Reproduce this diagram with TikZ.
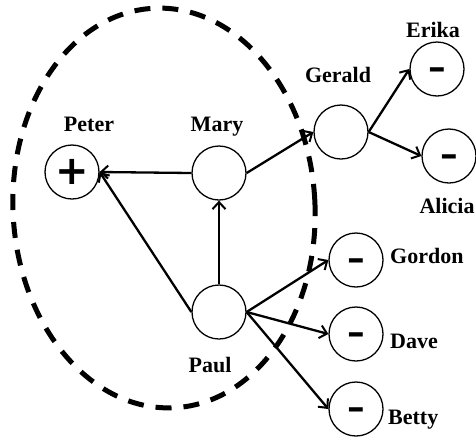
\documentclass[tikz,border=0pt]{standalone}
\usepackage{fontspec}
\usepackage{graphicx}
\setmainfont{Liberation Serif}
\newfontfamily\symfont{DejaVu Sans}
\usetikzlibrary{arrows.meta}
\tikzset{
  person/.style={circle, draw, line width=1.3pt, minimum size=54pt, inner sep=0pt, fill=white},
  personname/.style={font=\fontsize{22}{26}\selectfont\bfseries, inner sep=0pt, anchor=base},
  rel/.style={line width=2.3pt, -{Straight Barb[length=7pt,width=13pt,line width=2pt]}},
  plussign/.style={font=\symfont\bfseries\fontsize{40}{40}\selectfont, inner sep=0pt},
  minussign/.style={font=\symfont\bfseries\fontsize{30}{30}\selectfont, inner sep=0pt, yshift=-4.5pt},
  groupline/.style={line width=5pt, dash pattern=on 16pt off 12pt}
}
\begin{document}
\begin{tikzpicture}[x=1pt,y=-1pt]
\useasboundingbox (0,0) rectangle (476,437);
% people
\node[person] (peter) at (72,172) {};
\node[person] (mary) at (219,173) {};
\node[person] (paul) at (219,312) {};
\node[person] (gerald) at (341,132) {};
\node[person] (erika) at (437,69) {};
\node[person] (alicia) at (449,156) {};
\node[person] (gordon) at (356,260) {};
\node[person] (dave) at (356,334) {};
\node[person] (betty) at (356,409) {};
% signs
\node[plussign] (ps) at (peter.center) {+};
\node[minussign] (ms1) at (erika.center) {\scalebox{1.5}[1]{-}};
\node[minussign] (ms2) at (alicia.center) {\scalebox{1.5}[1]{-}};
\node[minussign] (ms3) at (gordon.center) {\scalebox{1.5}[1]{-}};
\node[minussign] (ms4) at (dave.center) {\scalebox{1.5}[1]{-}};
\node[minussign] (ms5) at (betty.center) {\scalebox{1.5}[1]{-}};
% names
\node[personname] (lpeter) at (89,131) {Peter};
\node[personname] (lmary) at (217,131) {Mary};
\node[personname] (lgerald) at (338,82) {Gerald};
\node[personname] (lerika) at (433,37) {Erika};
\node[personname] (lalicia) at (447,213) {Alicia};
\node[personname, anchor=base west] (lgordon) at (390,263) {Gordon};
\node[personname, anchor=base west] (ldave) at (390,348) {Dave};
\node[personname, anchor=base west] (lbetty) at (388,424) {Betty};
\node[personname] (lpaul) at (210,372) {Paul};
% relations
\draw[rel] (mary.west) -- (peter.east);
\draw[rel] (paul.west) -- (peter.east);
\draw[rel] (paul.north) -- (mary.south);
\draw[rel] (mary.east) -- (gerald.west);
\draw[rel] (gerald.east) -- (erika.west);
\draw[rel] (gerald.east) -- (alicia.west);
\draw[rel] (paul.east) -- (gordon.west);
\draw[rel] (paul.east) -- (dave.west);
\draw[rel] (paul.east) -- (betty.west);
% group
\coordinate (gc) at (164,208);
\draw[groupline, rotate around={3:(gc)}] (gc) ellipse [x radius=151, y radius=200];
\end{tikzpicture}
\end{document}
